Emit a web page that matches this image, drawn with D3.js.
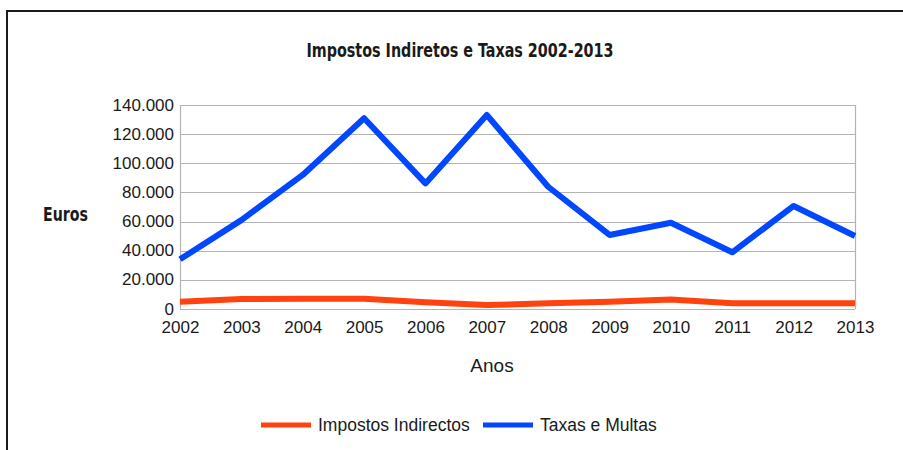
<!DOCTYPE html>
<html>
<head>
<meta charset="utf-8">
<script src="https://cdn.jsdelivr.net/npm/d3@7"></script>
<style>
  body { margin: 0; background: #fff; }
  svg { display: block; }
</style>
</head>
<body>
<div class="chart"></div>
<script>
// data
var years = ["2002", "2003", "2004", "2005", "2006", "2007", "2008", "2009", "2010", "2011", "2012", "2013"];
var impostosIndirectos = [5000, 6900, 7000, 7000, 4600, 2700, 3900, 5000, 6600, 3900, 3900, 3900];
var taxasMultas = [34100, 61000, 92000, 130900, 86200, 133100, 83900, 50800, 59200, 38900, 70700, 50100];
var yTicks = [0, 20000, 40000, 60000, 80000, 100000, 120000, 140000];
var seriesNames = ["Impostos Indirectos", "Taxas e Multas"];
var seriesColors = ["#ff420e", "#0047ff"];

var W = 903, H = 450;
var margin = { top: 105, right: 48, bottom: 141, left: 180 },
    width = W - margin.left - margin.right,
    height = H - margin.top - margin.bottom;

var svg = d3.select(".chart").append("svg")
    .attr("width", W)
    .attr("height", H);

// frame (top + left edges only, like the screenshot)
svg.append("path")
    .attr("d", "M7,450 V11 H903")
    .attr("fill", "none")
    .attr("stroke", "#1a1a1a")
    .attr("stroke-width", 2);

var g = svg.append("g")
    .attr("transform", "translate(" + margin.left + "," + margin.top + ")");

var x = d3.scalePoint().domain(years).range([0, width]);
var y = d3.scaleLinear().domain([0, 140000]).range([height, 0]);

var fmt = function(d) { return d === 0 ? "0" : d3.format(",")(d).replace(/,/g, "."); };

// grid lines
g.selectAll(".grid")
    .data(yTicks)
    .enter().append("line")
    .attr("x1", 0)
    .attr("x2", width)
    .attr("y1", function(d) { return Math.round(y(d)) + 0.5; })
    .attr("y2", function(d) { return Math.round(y(d)) + 0.5; })
    .attr("stroke", "#b3b3b3")
    .attr("stroke-width", 1.2);

// plot borders
g.append("line").attr("x1", 0.5).attr("x2", 0.5).attr("y1", 0).attr("y2", height)
    .attr("stroke", "#b3b3b3").attr("stroke-width", 1.2);
g.append("line").attr("x1", width + 0.5).attr("x2", width + 0.5).attr("y1", 0).attr("y2", height)
    .attr("stroke", "#b3b3b3").attr("stroke-width", 1.2);

// y axis
var yAxis = g.append("g")
    .call(d3.axisLeft(y).tickValues(yTicks).tickFormat(fmt).tickSize(0).tickPadding(6));
yAxis.select(".domain").remove();
yAxis.selectAll("text")
    .style("font-family", "'Liberation Sans', Arial, sans-serif")
    .style("font-size", "17px")
    .attr("fill", "#1a1a1a")
    .attr("dy", "0.3em");

// x axis
var xAxis = g.append("g")
    .attr("transform", "translate(0," + height + ")")
    .call(d3.axisBottom(x).tickSize(0).tickPadding(12));
xAxis.select(".domain").remove();
xAxis.selectAll("text")
    .style("font-family", "'Liberation Sans', Arial, sans-serif")
    .style("font-size", "17px")
    .attr("fill", "#1a1a1a");

// lines
var series = [impostosIndirectos, taxasMultas];
var line = d3.line()
    .x(function(d, i) { return x(years[i]); })
    .y(function(d) { return y(d); });

series.forEach(function(s, k) {
  g.append("path")
      .datum(s)
      .attr("fill", "none")
      .attr("stroke", seriesColors[k])
      .attr("stroke-width", 6)
      .attr("stroke-linejoin", "round")
      .attr("d", line);
});

// title (narrow bold face, stretched a bit taller like the original)
var title = svg.append("text")
    .attr("text-anchor", "middle")
    .attr("transform", "translate(460,57) scale(1,1.2)")
    .style("font-family", "'DejaVu Sans Condensed', sans-serif")
    .style("font-weight", "bold")
    .style("font-size", "16px")
    .attr("fill", "#1a1a1a")
    .text("Impostos Indiretos e Taxas 2002-2013");
var tw = title.node().getComputedTextLength();
title.style("font-size", (16 * 307 / tw) + "px");

// y label
var ylab = svg.append("text")
    .attr("transform", "translate(43,221) scale(1,1.2)")
    .style("font-family", "'DejaVu Sans Condensed', sans-serif")
    .style("font-weight", "bold")
    .style("font-size", "16px")
    .attr("fill", "#1a1a1a")
    .text("Euros");
var ew = ylab.node().getComputedTextLength();
ylab.style("font-size", (16 * 45 / ew) + "px");

// x label
svg.append("text")
    .attr("x", 492)
    .attr("y", 372)
    .attr("text-anchor", "middle")
    .style("font-family", "'Liberation Sans', Arial, sans-serif")
    .style("font-size", "19px")
    .attr("fill", "#1a1a1a")
    .text("Anos");

// legend
var legendX = [261, 483];
var legend = svg.selectAll(".legend")
    .data(seriesNames)
    .enter().append("g")
    .attr("transform", function(d, i) { return "translate(" + legendX[i] + ",425)"; });
legend.append("line")
    .attr("x1", 0).attr("x2", 50)
    .attr("stroke", function(d, i) { return seriesColors[i]; })
    .attr("stroke-width", 5);
legend.append("text")
    .attr("x", 57)
    .attr("dy", "0.36em")
    .style("font-family", "'Liberation Sans', Arial, sans-serif")
    .style("font-size", "17.5px")
    .attr("fill", "#1a1a1a")
    .text(function(d) { return d; });
</script>
</body>
</html>
